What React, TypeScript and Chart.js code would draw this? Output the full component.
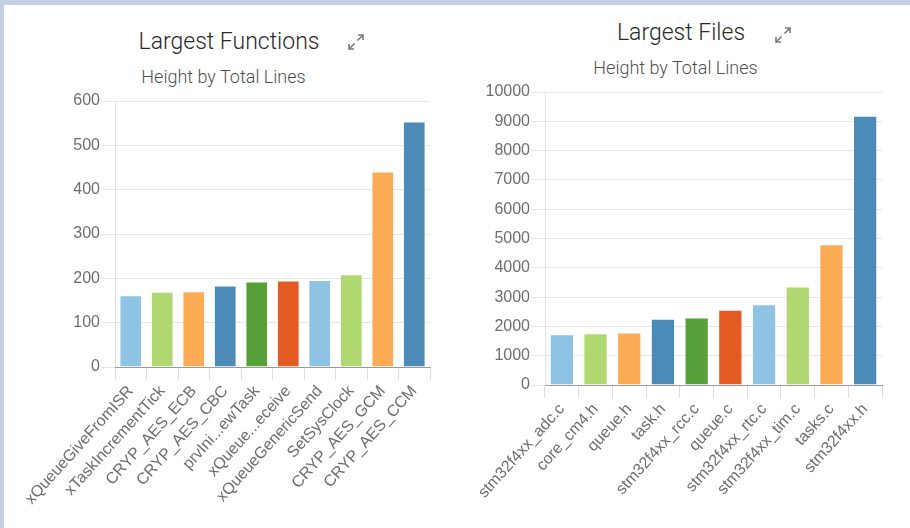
import React, { useEffect, useRef } from "react";
import { Chart, registerables } from "chart.js";

Chart.register(...registerables);

const fnLabels = [
  "xQueueGiveFromISR",
  "xTaskIncrementTick",
  "CRYP_AES_ECB",
  "CRYP_AES_CBC",
  "prvIni...ewTask",
  "xQueue...eceive",
  "xQueueGenericSend",
  "SetSysClock",
  "CRYP_AES_GCM",
  "CRYP_AES_CCM",
];
const fnValues = [162, 170, 171, 184, 193, 195, 196, 209, 441, 554];
const fnTicks = { max: 600, step: 100 };

const fileLabels = [
  "stm32f4xx_adc.c",
  "core_cm4.h",
  "queue.h",
  "task.h",
  "stm32f4xx_rcc.c",
  "queue.c",
  "stm32f4xx_rtc.c",
  "stm32f4xx_tim.c",
  "tasks.c",
  "stm32f4xx.h",
];
const fileValues = [1734, 1768, 1792, 2257, 2305, 2565, 2760, 3365, 4801, 9189];
const fileTicks = { max: 10000, step: 1000 };

const barColors = [
  "#8fc3e4",
  "#b0d870",
  "#fdab55",
  "#4c8bb8",
  "#579f38",
  "#e35a22",
  "#8fc3e4",
  "#b0d870",
  "#fdab55",
  "#4c8bb8",
];

type PanelProps = {
  labels: string[];
  values: number[];
  max: number;
  step: number;
  left: number;
  top: number;
  width: number;
  height: number;
  padTop: number;
  padRight: number;
  yWidth: number;
  xHeight: number;
};

function BarPanel(p: PanelProps) {
  const ref = useRef<HTMLCanvasElement | null>(null);
  useEffect(() => {
    if (!ref.current) return;
    const tickFont = { size: 16, family: "Arial, 'Liberation Sans', sans-serif" };
    const chart = new Chart(ref.current, {
      type: "bar",
      data: {
        labels: p.labels,
        datasets: [
          {
            data: p.values,
            backgroundColor: barColors,
            borderColor: "rgba(255,255,255,0.45)",
            borderWidth: 1,
          },
        ],
      },
      options: {
        animation: false,
        responsive: false,
        devicePixelRatio: 1,
        layout: { padding: { top: p.padTop, right: p.padRight, left: 0, bottom: 0 } },
        plugins: { legend: { display: false }, tooltip: { enabled: false } },
        scales: {
          x: {
            grid: {
              display: true,
              drawOnChartArea: false,
              drawTicks: true,
              tickLength: 13,
              color: "#dcdcdc",
              offset: true,
            },
            border: { color: "#9a9a9a", width: 1, z: 1 },
            ticks: {
              autoSkip: false,
              minRotation: 48,
              maxRotation: 48,
              font: tickFont,
              color: "#6e6e6e",
              padding: 2,
            },
            afterFit: (s: any) => {
              s.height = p.xHeight;
            },
          },
          y: {
            min: 0,
            max: p.max,
            ticks: {
              stepSize: p.step,
              font: tickFont,
              color: "#6e6e6e",
              padding: 1,
              callback: (v: any) => String(v),
            },
            grid: { color: "#e6e6e6", tickLength: 14 },
            border: { color: "#e2e2e2" },
            afterFit: (s: any) => {
              s.width = p.yWidth;
            },
          },
        },
      },
    } as any);
    return () => chart.destroy();
  }, []);
  return (
    <canvas
      ref={ref}
      width={p.width}
      height={p.height}
      style={{ position: "absolute", left: p.left, top: p.top, width: p.width, height: p.height }}
    />
  );
}

function ExpandIcon({ left, top }: { left: number; top: number }) {
  return (
    <svg
      width={20}
      height={20}
      viewBox="0 0 20 20"
      style={{ position: "absolute", left, top }}
    >
      <g stroke="#7a7a7a" strokeWidth={1.6} fill="none">
        <line x1={11.5} y1={8.5} x2={17} y2={3} />
        <polyline points="12,3 17,3 17,8" />
        <line x1={8.5} y1={11.5} x2={3} y2={17} />
        <polyline points="3,12 3,17 8,17" />
      </g>
    </svg>
  );
}

function Heading({ text, cx, top, size, color }: { text: string; cx: number; top: number; size: number; color: string }) {
  return (
    <div
      style={{
        position: "absolute",
        left: cx,
        top,
        transform: "translateX(-50%)",
        whiteSpace: "nowrap",
        fontFamily: "Roboto, sans-serif",
        fontWeight: 300,
        fontSize: size,
        lineHeight: 1,
        color,
      }}
    >
      {text}
    </div>
  );
}

export default function App() {
  return (
    <div
      style={{
        position: "fixed",
        left: 0,
        top: 0,
        width: 910,
        height: 528,
        background: "#c5d0e2",
        overflow: "hidden",
      }}
    >
      <div style={{ position: "absolute", left: 4, top: 5, width: 906, height: 523, background: "#ffffff" }} />
      <Heading text="Largest Functions" cx={229} top={30} size={23} color="#2a2a2a" />
      <Heading text="Height by Total Lines" cx={223.5} top={68} size={18} color="#505050" />
      <ExpandIcon left={346} top={32} />
      <BarPanel
        labels={fnLabels}
        values={fnValues}
        max={fnTicks.max}
        step={fnTicks.step}
        left={4}
        top={5}
        width={451}
        height={523}
        padTop={96}
        padRight={25}
        yWidth={111}
        xHeight={161}
      />
      <Heading text="Largest Files" cx={681} top={21} size={23} color="#2a2a2a" />
      <Heading text="Height by Total Lines" cx={675.5} top={59} size={18} color="#505050" />
      <ExpandIcon left={773} top={25} />
      <BarPanel
        labels={fileLabels}
        values={fileValues}
        max={fileTicks.max}
        step={fileTicks.step}
        left={455}
        top={5}
        width={455}
        height={523}
        padTop={87}
        padRight={28}
        yWidth={90}
        xHeight={143}
      />
    </div>
  );
}
